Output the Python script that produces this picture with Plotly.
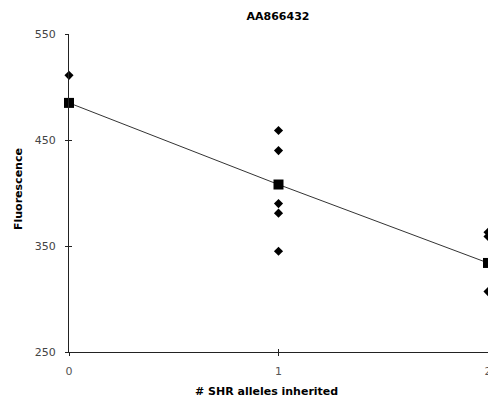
import plotly.graph_objects as go

# Data
title_text = "AA866432"
x_label = "# SHR alleles inherited"
y_label = "Fluorescence"

indiv_x = [0, 1, 1, 1, 1, 1, 2, 2, 2]
indiv_y = [511, 459, 440, 390, 381, 345, 363, 359, 307]

mean_x = [0, 1, 2]
mean_y = [485, 408, 334]

x_ticks = [0, 1, 2]
y_ticks = [250, 350, 450, 550]

font_family = "DejaVu Sans, Verdana, sans-serif"

fig = go.Figure()
fig.add_trace(go.Scatter(
    x=mean_x, y=mean_y, mode="lines+markers",
    line=dict(color="#333333", width=1),
    marker=dict(symbol="square", size=10, color="black"),
    cliponaxis=False, showlegend=False))
fig.add_trace(go.Scatter(
    x=indiv_x, y=indiv_y, mode="markers",
    marker=dict(symbol="diamond", size=7, color="black"),
    cliponaxis=False, showlegend=False))
# invisible trace so the overlaid axes (inside ticks) are drawn
fig.add_trace(go.Scatter(x=[mean_x[0]], y=[mean_y[0]], xaxis="x2", yaxis="y2",
                         mode="markers", marker=dict(opacity=0), showlegend=False,
                         hoverinfo="skip"))

fig.update_layout(
    width=488, height=399,
    margin=dict(l=69, r=0, t=34, b=47, autoexpand=False),
    paper_bgcolor="white", plot_bgcolor="white",
    title=dict(text=f"<b>{title_text}</b>", x=278/488, xanchor="center",
               y=1 - 16/399, yanchor="middle",
               font=dict(family=font_family, size=11, color="black")),
    font=dict(family=font_family, size=11, color="#444444"),
    xaxis=dict(range=[0, 2], tickvals=x_ticks, ticktext=[str(v) for v in x_ticks],
               showgrid=False, zeroline=False, showline=True, linecolor="#222222", linewidth=1,
               ticks="outside", ticklen=3, tickcolor="#222222", ticklabelstandoff=6,
               ticklabeloverflow="allow", automargin=False, tickfont=dict(color="#555555")),
    yaxis=dict(range=[250, 550], tickvals=y_ticks, ticktext=[str(v) for v in y_ticks],
               showgrid=False, zeroline=False, showline=True, linecolor="#222222", linewidth=1,
               ticks="outside", ticklen=3, tickcolor="#222222", ticklabelstandoff=7,
               ticklabeloverflow="allow", automargin=False),
    xaxis2=dict(range=[0, 2], overlaying="x", tickvals=x_ticks, showticklabels=False,
                showgrid=False, zeroline=False, ticks="inside", ticklen=3, tickcolor="#222222",
                anchor="y2", side="bottom", automargin=False),
    yaxis2=dict(range=[250, 550], overlaying="y", tickvals=y_ticks, showticklabels=False,
                showgrid=False, zeroline=False, ticks="inside", ticklen=3, tickcolor="#222222",
                anchor="x2", side="left", automargin=False),
    annotations=[
        dict(text=f"<b>{x_label}</b>", xref="paper", yref="paper", x=0.5, y=0,
             xanchor="center", yanchor="middle", xshift=-12, yshift=-39, showarrow=False,
             font=dict(family=font_family, size=11, color="black")),
        dict(text=f"<b>{y_label}</b>", xref="paper", yref="paper", x=0, y=0.5,
             xanchor="center", yanchor="middle", xshift=-51, yshift=4, textangle=-90,
             showarrow=False, font=dict(family=font_family, size=11, color="black")),
    ],
)

fig.write_html("out.html", config={"displayModeBar": False},
               post_script="document.body.style.margin='0';document.body.style.overflow='hidden';")
